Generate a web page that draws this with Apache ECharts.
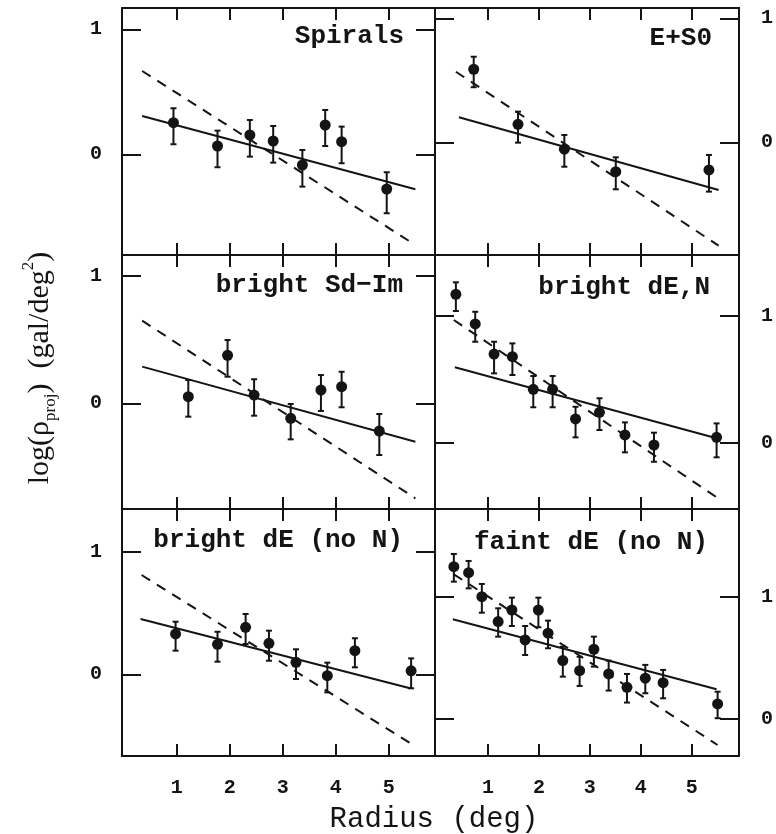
<!DOCTYPE html>
<html>
<head>
<meta charset="utf-8">
<script src="https://cdn.jsdelivr.net/npm/echarts@6/dist/echarts.min.js"></script>
<style>html,body{margin:0;padding:0;background:#fff}#c{width:776px;height:834px}</style>
</head>
<body>
<div id="c"></div>
<script>
// ---- tick values ----
const xTickValues = [1, 2, 3, 4, 5];
const yTickValues = [0, 1];

// ---- panel titles ----
const panelTitles = ['Spirals', 'E+S0', 'bright Sd\u2212Im', 'bright dE,N', 'bright dE (no N)', 'faint dE (no N)'];

// ---- Spirals ----
const spiralsX  = [0.94, 1.77, 2.38, 2.82, 3.37, 3.80, 4.11, 4.96];
const spiralsY  = [0.253, 0.066, 0.154, 0.106, -0.086, 0.234, 0.101, -0.278];
const spiralsLo = [0.080, -0.104, -0.019, -0.067, -0.259, 0.066, -0.072, -0.472];
const spiralsHi = [0.368, 0.189, 0.274, 0.226, 0.034, 0.354, 0.221, -0.144];
const spiralsFitX = [0.35, 5.50], spiralsFitY = [0.306, -0.280];
const spiralsModelX = [0.35, 5.50], spiralsModelY = [0.666, -0.726];

// ---- E+S0 ----
const es0X  = [0.72, 1.59, 2.50, 3.51, 5.34];
const es0Y  = [0.589, 0.145, -0.056, -0.237, -0.223];
const es0Lo = [0.444, -0.003, -0.197, -0.379, -0.398];
const es0Hi = [0.690, 0.247, 0.059, -0.121, -0.102];
const es0FitX = [0.43, 5.53], es0FitY = [0.202, -0.385];
const es0ModelX = [0.37, 5.53], es0ModelY = [0.569, -0.834];

// ---- bright Sd-Im ----
const sdimX  = [1.22, 1.96, 2.46, 3.15, 3.72, 4.11, 4.82];
const sdimY  = [0.052, 0.377, 0.065, -0.118, 0.104, 0.131, -0.218];
const sdimLo = [-0.105, 0.209, -0.097, -0.283, -0.060, -0.031, -0.406];
const sdimHi = [0.183, 0.497, 0.189, -0.005, 0.222, 0.248, -0.084];
const sdimFitX = [0.35, 5.50], sdimFitY = [0.288, -0.302];
const sdimModelX = [0.35, 5.50], sdimModelY = [0.649, -0.746];

// ---- bright dE,N ----
const deNX  = [0.37, 0.75, 1.12, 1.48, 1.89, 2.27, 2.72, 3.19, 3.69, 4.26, 5.49];
const deNY  = [1.168, 0.935, 0.698, 0.677, 0.420, 0.420, 0.187, 0.239, 0.061, -0.018, 0.042];
const deNLo = [1.037, 0.795, 0.546, 0.533, 0.279, 0.279, 0.042, 0.100, -0.076, -0.150, -0.115];
const deNHi = [1.263, 1.031, 0.795, 0.782, 0.525, 0.525, 0.283, 0.350, 0.160, 0.079, 0.152];
const deNFitX = [0.35, 5.49], deNFitY = [0.594, 0.035];
const deNModelX = [0.33, 5.52], deNModelY = [0.966, -0.438];

// ---- bright dE (no N) ----
const bdeX  = [0.98, 1.77, 2.30, 2.74, 3.25, 3.84, 4.36, 5.42];
const bdeY  = [0.329, 0.245, 0.383, 0.253, 0.098, -0.011, 0.193, 0.029];
const bdeLo = [0.193, 0.103, 0.247, 0.111, -0.038, -0.147, 0.057, -0.114];
const bdeHi = [0.429, 0.347, 0.492, 0.356, 0.204, 0.095, 0.294, 0.130];
const bdeFitX = [0.32, 5.40], bdeFitY = [0.451, -0.114];
const bdeModelX = [0.34, 5.46], bdeModelY = [0.810, -0.577];

// ---- faint dE (no N) ----
const fdeX  = [0.33, 0.62, 0.88, 1.20, 1.47, 1.73, 1.99, 2.18, 2.47, 2.80, 3.08, 3.37, 3.73, 4.09, 4.44, 5.51];
const fdeY  = [1.245, 1.196, 1.000, 0.796, 0.891, 0.646, 0.891, 0.701, 0.477, 0.395, 0.570, 0.368, 0.259, 0.333, 0.297, 0.123];
const fdeLo = [1.123, 1.068, 0.869, 0.673, 0.760, 0.523, 0.750, 0.578, 0.346, 0.270, 0.428, 0.232, 0.134, 0.210, 0.169, 0.006];
const fdeHi = [1.349, 1.292, 1.104, 0.905, 0.992, 0.760, 0.992, 0.804, 0.591, 0.509, 0.673, 0.477, 0.368, 0.442, 0.401, 0.223];
const fdeFitX = [0.31, 5.49], fdeFitY = [0.815, 0.243];
const fdeModelX = [0.33, 5.51], fdeModelY = [1.183, -0.213];

// ---- axis ranges per panel ----
const xRanges = [[-0.03, 5.87], [-0.04, 5.93], [-0.03, 5.87], [-0.04, 5.93], [-0.03, 5.87], [-0.04, 5.93]];
const yRanges = [[-0.806, 1.170], [-0.909, 1.083], [-0.830, 1.165], [-0.522, 1.478], [-0.666, 1.348], [-0.303, 1.717]];

const panels = [
  {x: spiralsX, y: spiralsY, lo: spiralsLo, hi: spiralsHi, fx: spiralsFitX, fy: spiralsFitY, mx: spiralsModelX, my: spiralsModelY},
  {x: es0X, y: es0Y, lo: es0Lo, hi: es0Hi, fx: es0FitX, fy: es0FitY, mx: es0ModelX, my: es0ModelY},
  {x: sdimX, y: sdimY, lo: sdimLo, hi: sdimHi, fx: sdimFitX, fy: sdimFitY, mx: sdimModelX, my: sdimModelY},
  {x: deNX, y: deNY, lo: deNLo, hi: deNHi, fx: deNFitX, fy: deNFitY, mx: deNModelX, my: deNModelY},
  {x: bdeX, y: bdeY, lo: bdeLo, hi: bdeHi, fx: bdeFitX, fy: bdeFitY, mx: bdeModelX, my: bdeModelY},
  {x: fdeX, y: fdeY, lo: fdeLo, hi: fdeHi, fx: fdeFitX, fy: fdeFitY, mx: fdeModelX, my: fdeModelY}
];

// ---- layout ----
const gridBoxes = [
  {left: 122, top: 8, width: 313, height: 247},
  {left: 435, top: 8, width: 310, height: 247},
  {left: 122, top: 255, width: 313, height: 254},
  {left: 435, top: 255, width: 310, height: 254},
  {left: 122, top: 509, width: 313, height: 247},
  {left: 435, top: 509, width: 310, height: 247}
];
const titlePos = [
  {right: 372, top: 23}, {right: 64, top: 25},
  {right: 373, top: 272}, {right: 66, top: 274},
  {right: 373, top: 527}, {right: 68, top: 529}
];

const INK = '#141414';
const MONO = '"Liberation Mono", monospace';
const lineW = 2;

const grid = [], xAxis = [], yAxis = [], series = [], title = [];
panels.forEach((p, i) => {
  grid.push(Object.assign({containLabel: false}, gridBoxes[i]));
  const isLeft = i % 2 === 0;
  const isBottom = i >= 4;
  const axLine = {show: true, onZero: false, lineStyle: {color: INK, width: lineW}};
  xAxis.push({
    type: 'value', gridIndex: i, position: 'bottom', min: xRanges[i][0], max: xRanges[i][1],
    axisLine: axLine, splitLine: {show: false},
    axisTick: {show: true, inside: true, length: 12, customValues: xTickValues, lineStyle: {color: INK, width: lineW}},
    axisLabel: {show: isBottom, customValues: xTickValues, margin: 22, color: INK, fontFamily: MONO, fontWeight: 'bold', fontSize: 20}
  });
  xAxis.push({
    type: 'value', gridIndex: i, position: 'top', min: xRanges[i][0], max: xRanges[i][1],
    axisLine: axLine, splitLine: {show: false},
    axisTick: {show: true, inside: true, length: 12, customValues: xTickValues, lineStyle: {color: INK, width: lineW}},
    axisLabel: {show: false}
  });
  yAxis.push({
    type: 'value', gridIndex: i, position: 'left', min: yRanges[i][0], max: yRanges[i][1],
    axisLine: axLine, splitLine: {show: false},
    axisTick: {show: true, inside: true, length: 19, customValues: yTickValues, lineStyle: {color: INK, width: lineW}},
    axisLabel: {show: isLeft, customValues: yTickValues, margin: 20, color: INK, fontFamily: MONO, fontWeight: 'bold', fontSize: 20}
  });
  yAxis.push({
    type: 'value', gridIndex: i, position: 'right', min: yRanges[i][0], max: yRanges[i][1],
    axisLine: axLine, splitLine: {show: false},
    axisTick: {show: true, inside: true, length: 19, customValues: yTickValues, lineStyle: {color: INK, width: lineW}},
    axisLabel: {show: !isLeft, customValues: yTickValues, margin: 22, color: INK, fontFamily: MONO, fontWeight: 'bold', fontSize: 20}
  });

  title.push(Object.assign({
    text: panelTitles[i], padding: 0,
    textStyle: {fontFamily: MONO, fontWeight: 'bold', fontSize: 26, color: INK}
  }, titlePos[i]));

  const xi = 2 * i, yi = 2 * i;
  series.push({
    type: 'line', xAxisIndex: xi, yAxisIndex: yi, symbol: 'none', silent: true, z: 2,
    data: p.mx.map((v, k) => [v, p.my[k]]),
    lineStyle: {color: INK, width: 2, type: [10, 8]}
  });
  series.push({
    type: 'line', xAxisIndex: xi, yAxisIndex: yi, symbol: 'none', silent: true, z: 2,
    data: p.fx.map((v, k) => [v, p.fy[k]]),
    lineStyle: {color: INK, width: 2}
  });
  series.push({
    type: 'custom', xAxisIndex: xi, yAxisIndex: yi, silent: true, z: 3,
    data: p.x.map((v, k) => [v, p.lo[k], p.hi[k]]),
    renderItem: function (params, api) {
      const xv = api.value(0);
      const a = api.coord([xv, api.value(2)]);
      const b = api.coord([xv, api.value(1)]);
      const w = 3;
      const st = {stroke: INK, lineWidth: 2};
      return {type: 'group', children: [
        {type: 'line', shape: {x1: a[0], y1: a[1], x2: b[0], y2: b[1]}, style: st},
        {type: 'line', shape: {x1: a[0] - w, y1: a[1], x2: a[0] + w, y2: a[1]}, style: st},
        {type: 'line', shape: {x1: b[0] - w, y1: b[1], x2: b[0] + w, y2: b[1]}, style: st}
      ]};
    }
  });
  series.push({
    type: 'scatter', xAxisIndex: xi, yAxisIndex: yi, symbol: 'circle', symbolSize: 11, z: 4,
    data: p.x.map((v, k) => [v, p.y[k]]),
    itemStyle: {color: INK, opacity: 1}
  });
});

const chart = echarts.init(document.getElementById('c'), null, {renderer: 'canvas'});
chart.setOption({
  animation: false,
  backgroundColor: '#fff',
  title: title,
  grid: grid,
  xAxis: xAxis,
  yAxis: yAxis,
  series: series,
  graphic: [
    {
      type: 'text', x: 434, y: 819,
      style: {text: 'Radius (deg)', fill: INK, font: '29px "Liberation Mono", monospace',
              textAlign: 'center', textVerticalAlign: 'middle', align: 'center', verticalAlign: 'middle'}
    },
    {
      type: 'text', x: 40, y: 368, rotation: Math.PI / 2,
      style: {
        text: '{a|log(ρ}{s|proj}{a|)  (gal/deg}{p|2}{a|)}',
        fill: INK, textAlign: 'center', textVerticalAlign: 'middle', align: 'center', verticalAlign: 'middle',
        rich: {
          a: {fontFamily: '"Liberation Serif", serif', fontSize: 30, lineHeight: 44, verticalAlign: 'middle', color: INK},
          s: {fontFamily: '"Liberation Serif", serif', fontSize: 17, lineHeight: 17, verticalAlign: 'bottom', padding: [0, 0, 3, 0], color: INK},
          p: {fontFamily: '"Liberation Serif", serif', fontSize: 17, lineHeight: 17, verticalAlign: 'top', padding: [2, 0, 0, 0], color: INK}
        }
      }
    }
  ]
});
</script>
</body>
</html>
